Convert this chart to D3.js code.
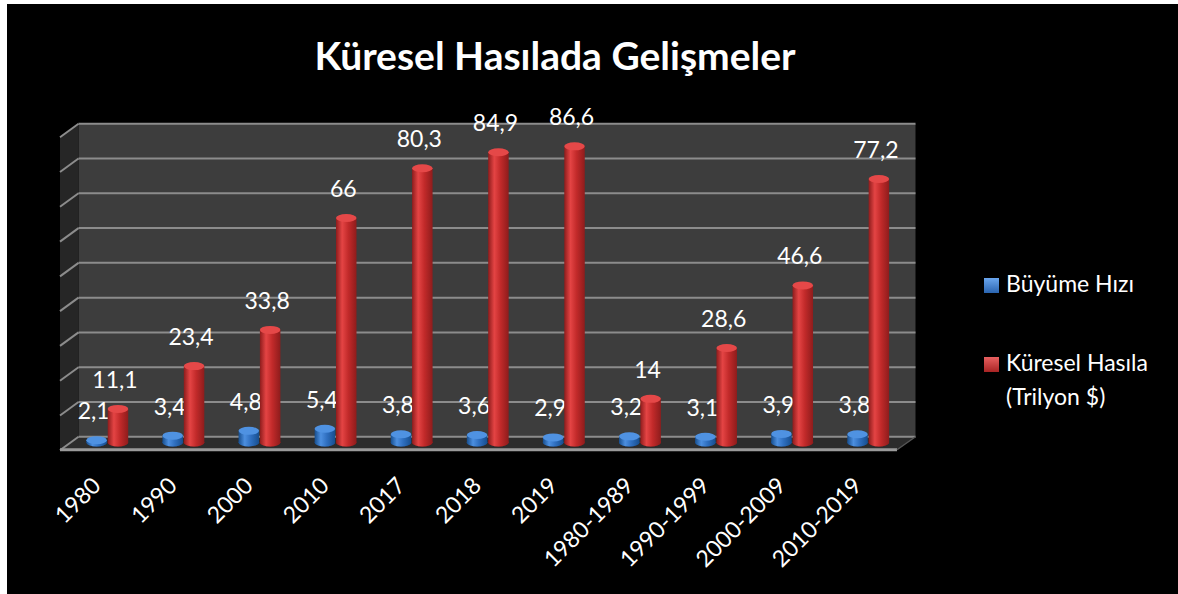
<!DOCTYPE html>
<html>
<head>
<meta charset="utf-8">
<script src="https://cdn.jsdelivr.net/npm/d3@7"></script>
<style>
	body { margin: 0; background: #fff; }
	svg { display: block; }
	text { font-family: Lato, "Open Sans", sans-serif; fill: #fff; }
	text.title { font-size: 39px; font-weight: 700; }
	text.value { font-size: 23px; }
	text.cat { font-size: 23px; }
	text.legend { font-size: 23px; }
	line.grid { stroke: #8c8c8c; stroke-width: 2; }
</style>
</head>
<body>
<div id="chart"></div>
<script>
const categories = ["1980", "1990", "2000", "2010", "2017", "2018", "2019", "1980-1989", "1990-1999", "2000-2009", "2010-2019"];
const growth = [2.1, 3.4, 4.8, 5.4, 3.8, 3.6, 2.9, 3.2, 3.1, 3.9, 3.8];
const output = [11.1, 23.4, 33.8, 66, 80.3, 84.9, 86.6, 14, 28.6, 46.6, 77.2];
const seriesNames = ["Büyüme Hızı", "Küresel Hasıla", "(Trilyon $)"];
const yMax = 90;

const W = 1178, H = 594;
// depth offset of the 3d box (back wall vs front edge)
const dx = 18.5, dy = -13.5;

const svg = d3.select("#chart").append("svg").attr("width", W).attr("height", H);

svg.append("rect")
	.attr("x", 7).attr("y", 4)
	.attr("width", W - 7).attr("height", H - 4)
	.attr("fill", "#000");

const defs = svg.append("defs");

function cylGrad(id, dark, mid, light) {
	const g = defs.append("linearGradient").attr("id", id)
		.attr("x1", 0).attr("x2", 1).attr("y1", 0).attr("y2", 0);
	g.append("stop").attr("offset", "0%").attr("stop-color", dark);
	g.append("stop").attr("offset", "30%").attr("stop-color", light);
	g.append("stop").attr("offset", "60%").attr("stop-color", mid);
	g.append("stop").attr("offset", "100%").attr("stop-color", dark);
}
cylGrad("gBlue", "#174e8e", "#2f6fc0", "#4c8fe0");
cylGrad("gRed", "#8e1c1c", "#c22a2a", "#e44444");

// mid-depth scales
const x = d3.scaleBand()
	.domain(categories)
	.range([60 + dx / 2, 897 + dx / 2])
	.paddingInner(0.45)
	.paddingOuter(0.225);

const xs = d3.scaleBand()
	.domain(["g", "o"])
	.range([0, x.bandwidth()])
	.paddingInner(0.04);

const y = d3.scaleLinear()
	.domain([0, yMax])
	.range([443.5, 130.5]);

const x0 = 60, x1 = 897;
const yFront = v => y(v) - dy / 2;
const yBack = v => y(v) + dy / 2;

// walls
svg.append("path")
	.attr("d", `M${x0 + dx},${yBack(0)} L${x1 + dx},${yBack(0)} L${x1 + dx},${yBack(yMax)} L${x0 + dx},${yBack(yMax)} Z`)
	.attr("fill", "#3d3d3d");

svg.append("path")
	.attr("d", `M${x0},${yFront(0)} L${x0 + dx},${yBack(0)} L${x0 + dx},${yBack(yMax)} L${x0},${yFront(yMax)} Z`)
	.attr("fill", "#262626");

// floor
svg.append("path")
	.attr("d", `M${x0},${yFront(0)} L${x1},${yFront(0)} L${x1 + dx},${yBack(0)} L${x0 + dx},${yBack(0)} Z`)
	.attr("fill", "#2c2c2c");

// gridlines
const ticks = y.ticks(9);
svg.selectAll("line.back")
	.data(ticks)
	.enter()
	.append("line")
	.attr("class", "grid")
	.attr("x1", x0 + dx).attr("x2", x1 + dx)
	.attr("y1", d => yBack(d)).attr("y2", d => yBack(d));

svg.selectAll("line.side")
	.data(ticks)
	.enter()
	.append("line")
	.attr("class", "grid")
	.attr("x1", x0).attr("x2", x0 + dx)
	.attr("y1", d => yFront(d)).attr("y2", d => yBack(d));

// floor front edge
svg.append("line")
	.attr("x1", x0).attr("x2", x1)
	.attr("y1", yFront(0) - 0.5).attr("y2", yFront(0) - 0.5)
	.attr("stroke", "#9a9a9a").attr("stroke-width", 3);
svg.append("line")
	.attr("x1", x1).attr("x2", x1 + dx)
	.attr("y1", yFront(0) - 0.5).attr("y2", yBack(0))
	.attr("stroke", "#555").attr("stroke-width", 1.5);

// cylinders
const ry = 4;
function cylinders(values, key, grad, cap, bottomCol) {
	const g = svg.append("g")
		.selectAll("g")
		.data(values)
		.enter()
		.append("g");

	const left = (d, i) => x(categories[i]) + xs(key);
	const w = xs.bandwidth();
	const base = y(0) - 1;

	g.append("ellipse")
		.attr("cx", (d, i) => left(d, i) + w / 2)
		.attr("cy", base)
		.attr("rx", w / 2).attr("ry", ry)
		.attr("fill", bottomCol);

	g.append("rect")
		.attr("x", left)
		.attr("y", d => y(d) + ry)
		.attr("width", w)
		.attr("height", d => Math.max(0, base - y(d) - ry))
		.attr("fill", `url(#${grad})`);

	g.append("ellipse")
		.attr("cx", (d, i) => left(d, i) + w / 2)
		.attr("cy", base)
		.attr("rx", w / 2).attr("ry", ry)
		.attr("fill", `url(#${grad})`);

	g.append("ellipse")
		.attr("cx", (d, i) => left(d, i) + w / 2)
		.attr("cy", d => y(d) + ry)
		.attr("rx", w / 2).attr("ry", ry)
		.attr("fill", cap);

	svg.append("g")
		.selectAll("text")
		.data(values)
		.enter()
		.append("text")
		.attr("class", "value")
		.attr("x", (d, i) => left(d, i) + w / 2 - 3)
		.attr("y", d => y(d) - 17)
		.attr("text-anchor", "middle")
		.text(d => String(d).replace(".", ","));
}
cylinders(growth, "g", "gBlue", "#4f92e2", "#174e8e");
cylinders(output, "o", "gRed", "#e54848", "#8e1c1c");

// category labels
svg.append("g")
	.selectAll("text")
	.data(categories)
	.enter()
	.append("text")
	.attr("class", "cat")
	.attr("text-anchor", "end")
	.attr("transform", d => `translate(${x(d) + x.bandwidth() / 2 - 5}, 487) rotate(-45)`)
	.text(d => d);

// title
svg.append("text")
	.attr("class", "title")
	.attr("x", 555)
	.attr("y", 70)
	.attr("text-anchor", "middle")
	.text("Küresel Hasılada Gelişmeler");

// legend
const legCols = [["#2a64b0", "#6aa6ee"], ["#a82424", "#e86060"]];
legCols.forEach((c, i) => {
	const gr = defs.append("linearGradient").attr("id", "leg" + i)
		.attr("x1", 0).attr("x2", 0).attr("y1", 0).attr("y2", 1);
	gr.append("stop").attr("offset", "0%").attr("stop-color", c[1]);
	gr.append("stop").attr("offset", "100%").attr("stop-color", c[0]);
});

const legY = [278, 357];
svg.selectAll("rect.leg")
	.data(legY)
	.enter()
	.append("rect")
	.attr("x", 984)
	.attr("y", d => d)
	.attr("width", 15)
	.attr("height", 15)
	.attr("fill", (d, i) => `url(#leg${i})`);

svg.append("text").attr("class", "legend").attr("x", 1006).attr("y", 292).text(seriesNames[0]);
svg.append("text").attr("class", "legend").attr("x", 1006).attr("y", 371).text(seriesNames[1]);
svg.append("text").attr("class", "legend").attr("x", 1006).attr("y", 405).text(seriesNames[2]);
</script>
</body>
</html>
